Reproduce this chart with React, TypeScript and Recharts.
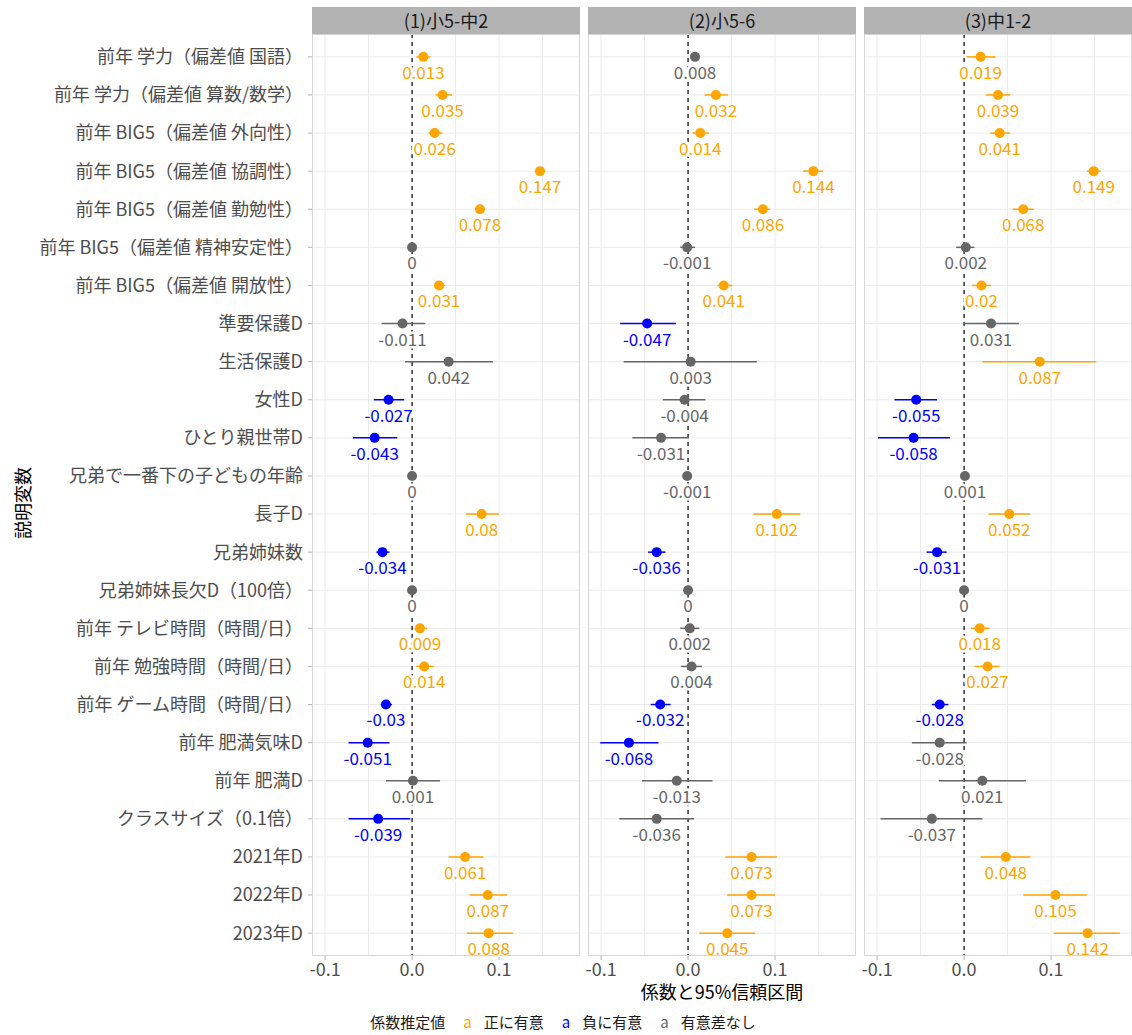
import React from 'react';
import { ScatterChart, Scatter, XAxis, YAxis, CartesianGrid, ErrorBar } from 'recharts';

const VARIABLES = [
  '前年 学力（偏差値 国語）',
  '前年 学力（偏差値 算数/数学）',
  '前年 BIG5（偏差値 外向性）',
  '前年 BIG5（偏差値 協調性）',
  '前年 BIG5（偏差値 勤勉性）',
  '前年 BIG5（偏差値 精神安定性）',
  '前年 BIG5（偏差値 開放性）',
  '準要保護D',
  '生活保護D',
  '女性D',
  'ひとり親世帯D',
  '兄弟で一番下の子どもの年齢',
  '長子D',
  '兄弟姉妹数',
  '兄弟姉妹長欠D（100倍）',
  '前年 テレビ時間（時間/日）',
  '前年 勉強時間（時間/日）',
  '前年 ゲーム時間（時間/日）',
  '前年 肥満気味D',
  '前年 肥満D',
  'クラスサイズ（0.1倍）',
  '2021年D',
  '2022年D',
  '2023年D',
];

const PANEL_TITLES = ['(1)小5-中2', '(2)小5-6', '(3)中1-2'];

// (1) 小5-中2
const EST_1 = [0.013, 0.035, 0.026, 0.147, 0.078, 0, 0.031, -0.011, 0.042, -0.027, -0.043, 0, 0.08, -0.034, 0, 0.009, 0.014, -0.03, -0.051, 0.001, -0.039, 0.061, 0.087, 0.088];
const LO_1 = [0.005, 0.027, 0.019, 0.141, 0.073, -0.003, 0.025, -0.035, -0.008, -0.044, -0.068, -0.002, 0.062, -0.041, -0.001, 0.003, 0.005, -0.036, -0.073, -0.03, -0.073, 0.042, 0.066, 0.063];
const HI_1 = [0.021, 0.046, 0.035, 0.153, 0.084, 0.003, 0.038, 0.015, 0.093, -0.009, -0.017, 0.002, 0.1, -0.026, 0.001, 0.017, 0.025, -0.023, -0.026, 0.032, -0.002, 0.082, 0.109, 0.116];
const SIG_1 = ['pos', 'pos', 'pos', 'pos', 'pos', 'none', 'pos', 'none', 'none', 'neg', 'neg', 'none', 'pos', 'neg', 'none', 'pos', 'pos', 'neg', 'neg', 'none', 'neg', 'pos', 'pos', 'pos'];

// (2) 小5-6
const EST_2 = [0.008, 0.032, 0.014, 0.144, 0.086, -0.001, 0.041, -0.047, 0.003, -0.004, -0.031, -0.001, 0.102, -0.036, 0, 0.002, 0.004, -0.032, -0.068, -0.013, -0.036, 0.073, 0.073, 0.045];
const LO_2 = [0.003, 0.019, 0.005, 0.132, 0.076, -0.009, 0.034, -0.078, -0.074, -0.029, -0.064, -0.003, 0.075, -0.046, -0.001, -0.009, -0.008, -0.043, -0.101, -0.053, -0.079, 0.043, 0.045, 0.013];
const HI_2 = [0.013, 0.046, 0.024, 0.155, 0.094, 0.008, 0.051, -0.014, 0.079, 0.02, 0.001, 0.001, 0.129, -0.026, 0.001, 0.013, 0.016, -0.02, -0.034, 0.028, 0.007, 0.102, 0.1, 0.077];
const SIG_2 = ['none', 'pos', 'pos', 'pos', 'pos', 'none', 'pos', 'neg', 'none', 'none', 'none', 'none', 'pos', 'neg', 'none', 'none', 'none', 'neg', 'neg', 'none', 'none', 'pos', 'pos', 'pos'];

// (3) 中1-2
const EST_3 = [0.019, 0.039, 0.041, 0.149, 0.068, 0.002, 0.02, 0.031, 0.087, -0.055, -0.058, 0.001, 0.052, -0.031, 0, 0.018, 0.027, -0.028, -0.028, 0.021, -0.037, 0.048, 0.105, 0.142];
const LO_3 = [0.003, 0.025, 0.03, 0.141, 0.056, -0.009, 0.009, 0.0, 0.021, -0.08, -0.099, -0.001, 0.028, -0.043, -0.001, 0.008, 0.012, -0.037, -0.06, -0.029, -0.096, 0.019, 0.068, 0.103];
const HI_3 = [0.036, 0.053, 0.053, 0.157, 0.08, 0.012, 0.031, 0.063, 0.152, -0.031, -0.016, 0.003, 0.076, -0.02, 0.001, 0.029, 0.041, -0.018, 0.003, 0.071, 0.021, 0.076, 0.141, 0.179];
const SIG_3 = ['pos', 'pos', 'pos', 'pos', 'pos', 'none', 'pos', 'none', 'pos', 'neg', 'neg', 'none', 'pos', 'neg', 'none', 'pos', 'pos', 'neg', 'none', 'none', 'none', 'pos', 'pos', 'pos'];

const X_TICKS = [-0.1, 0, 0.1];
const X_GRID = [-0.1, -0.05, 0, 0.05, 0.1, 0.15];

const COLORS: Record<string, string> = {
  pos: '#FFA500',
  neg: '#0000FF',
  none: '#666666',
};
const LEGEND = [
  { key: 'pos', label: '正に有意' },
  { key: 'neg', label: '負に有意' },
  { key: 'none', label: '有意差なし' },
];

const FONT = '"Noto Sans CJK JP", "Noto Sans", sans-serif';
const GRID = '#EBEBEB';
const ROWS = VARIABLES.map((_, i) => i + 1);

const PANELS = [
  { est: EST_1, lo: LO_1, hi: HI_1, sig: SIG_1 },
  { est: EST_2, lo: LO_2, hi: HI_2, sig: SIG_2 },
  { est: EST_3, lo: LO_3, hi: HI_3, sig: SIG_3 },
];

const PLOT_TOP = 34;
const PLOT_BOTTOM = 956;
const PLOT_W = 268;
const PANEL_LEFT = [312, 588, 864];
const GAP = 8;
const CHART_H = 1000;

const makeShape = (color: string) => (props: any) => {
  const { cx, cy, payload } = props;
  return (
    <g>
      <circle cx={cx} cy={cy} r={5} fill={color} />
      <text
        x={cx}
        y={cy + 16}
        dy="0.35em"
        textAnchor="middle"
        fill={color}
        stroke="#fff"
        strokeWidth={5}
        paintOrder="stroke"
        fontSize={17}
      >
        {String(payload.est)}
      </text>
    </g>
  );
};

const Panel = ({ idx }: { idx: number }) => {
  const p = PANELS[idx];
  const rows = p.est.map((est, i) => ({
    row: i + 1,
    est,
    err: [est - p.lo[i], p.hi[i] - est],
    sig: p.sig[i],
  }));
  const first = idx === 0;
  const marginLeft = first ? 0 : GAP;
  const yAxisW = first ? PANEL_LEFT[0] : 0;
  const left = PANEL_LEFT[idx] - yAxisW - marginLeft;
  const width = yAxisW + marginLeft + PLOT_W;

  return (
    <div style={{ position: 'absolute', left, top: 0 }}>
      <ScatterChart
        width={width}
        height={CHART_H}
        margin={{ top: PLOT_TOP, right: 0, bottom: CHART_H - PLOT_BOTTOM - 30, left: marginLeft }}
      >
        <CartesianGrid stroke={GRID} verticalValues={X_GRID} horizontalValues={ROWS} />
        <CartesianGrid stroke="#000" strokeWidth={1.2} strokeDasharray="4 4" horizontal={false} verticalValues={[0]} />
        <XAxis
          type="number"
          dataKey="est"
          domain={[-0.115, 0.193]}
          allowDataOverflow
          ticks={X_TICKS}
          interval={0}
          tickFormatter={(v: number) => v.toFixed(1)}
          height={30}
          axisLine={false}
          tickLine={{ stroke: '#B3B3B3' }}
          tickSize={4}
          tickMargin={3}
          tick={{ fill: '#4D4D4D', fontSize: 18 }}
        />
        <YAxis
          type="number"
          dataKey="row"
          domain={[0.4, 24.6]}
          reversed
          ticks={ROWS}
          interval={0}
          hide={!first}
          width={yAxisW}
          tickFormatter={(v: number) => VARIABLES[v - 1]}
          axisLine={false}
          tickLine={{ stroke: '#B3B3B3' }}
          tickSize={4}
          tickMargin={5}
          tick={{ fill: '#4D4D4D', fontSize: 18 }}
        />
        {['none', 'pos', 'neg'].map((k) => (
          <Scatter
            key={k}
            data={rows.filter((d) => d.sig === k)}
            fill={COLORS[k]}
            shape={makeShape(COLORS[k])}
            isAnimationActive={false}
          >
            <ErrorBar dataKey="err" direction="x" width={0} stroke={COLORS[k]} strokeWidth={1.5} />
          </Scatter>
        ))}
      </ScatterChart>
      <div
        style={{
          position: 'absolute',
          left: yAxisW + marginLeft,
          top: PLOT_TOP,
          width: PLOT_W,
          height: PLOT_BOTTOM - PLOT_TOP,
          boxSizing: 'border-box',
          border: '1px solid #D6D6D6',
          pointerEvents: 'none',
        }}
      />
      <div
        style={{
          position: 'absolute',
          left: yAxisW + marginLeft,
          top: 7,
          width: PLOT_W,
          height: PLOT_TOP - 7,
          background: '#B3B3B3',
          color: '#1A1A1A',
          fontSize: 18,
          lineHeight: `${PLOT_TOP - 7}px`,
          textAlign: 'center',
        }}
      >
        {PANEL_TITLES[idx]}
      </div>
    </div>
  );
};

export default function App() {
  return (
    <div
      style={{
        position: 'absolute',
        left: 0,
        top: 0,
        width: 1132,
        height: 1035,
        overflow: 'hidden',
        background: '#fff',
        fontFamily: FONT,
      }}
    >
      <Panel idx={0} />
      <Panel idx={1} />
      <Panel idx={2} />
      <div
        style={{
          position: 'absolute',
          left: 22,
          top: 503,
          transform: 'translate(-50%, -50%) rotate(-90deg)',
          fontSize: 18,
          color: '#000',
          whiteSpace: 'nowrap',
        }}
      >
        説明変数
      </div>
      <div
        style={{
          position: 'absolute',
          left: PANEL_LEFT[0],
          width: PANEL_LEFT[2] + PLOT_W - PANEL_LEFT[0],
          top: 982,
          fontSize: 18,
          lineHeight: '18px',
          color: '#000',
          textAlign: 'center',
        }}
      >
        係数と95%信頼区間
      </div>
      <div
        style={{
          position: 'absolute',
          left: 0,
          width: 1132,
          top: 1011,
          fontSize: 15,
          color: '#1A1A1A',
          display: 'flex',
          justifyContent: 'center',
          alignItems: 'center',
          gap: 12,
        }}
      >
        <span style={{ marginRight: 6 }}>係数推定値</span>
        {LEGEND.map((l) => (
          <span key={l.key} style={{ display: 'flex', alignItems: 'center', gap: 12, marginRight: 6 }}>
            <span style={{ color: COLORS[l.key] }}>a</span>
            <span>{l.label}</span>
          </span>
        ))}
      </div>
    </div>
  );
}
